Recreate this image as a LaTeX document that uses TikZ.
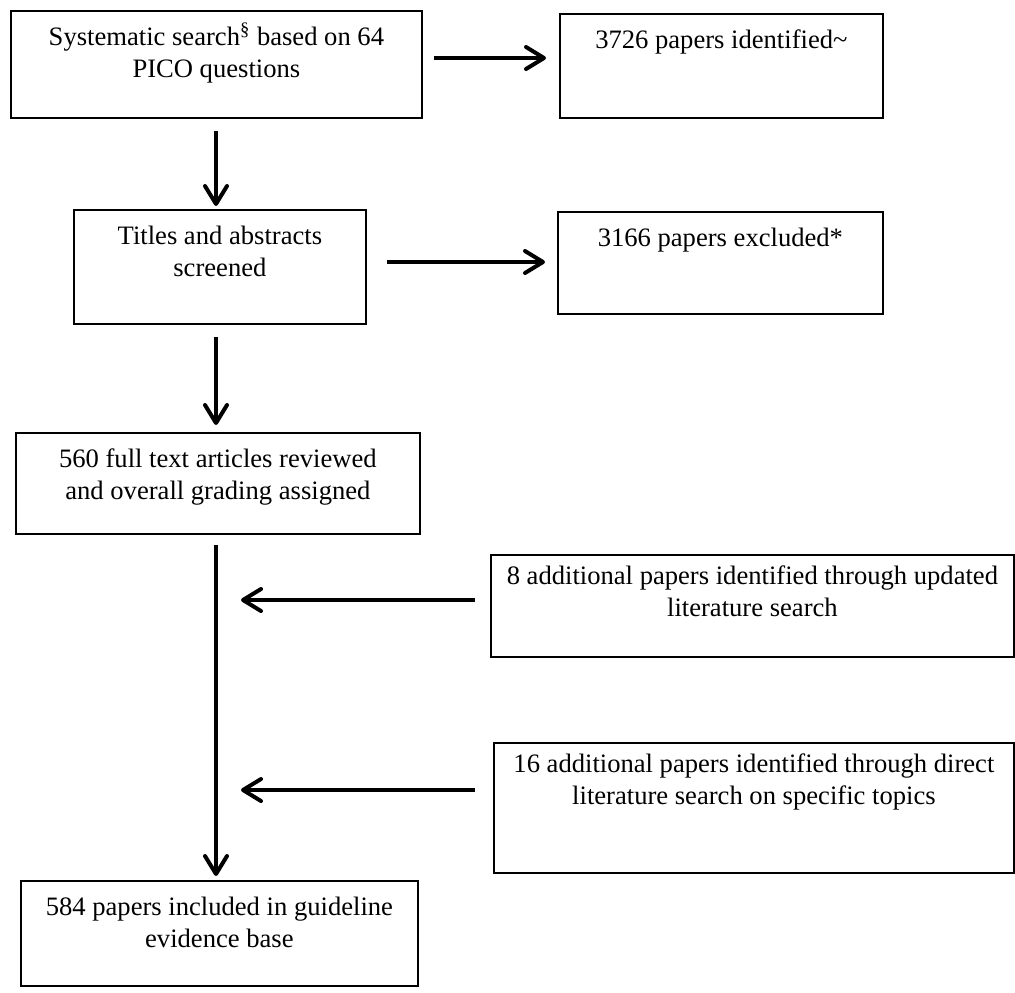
\documentclass[tikz,border=0pt]{standalone}
\usepackage{fontspec}
\setmainfont{Liberation Serif}
\usetikzlibrary{arrows.meta}
\newcommand{\boxtext}[4][17.5pt]{\parbox[t][#3][t]{#2}{\centering\rule{0pt}{#1}#4\par}}

\begin{document}
\begin{tikzpicture}[x=0.5pt, y=-0.5pt,
    block/.style={draw, line width=0.9pt, inner sep=0pt, anchor=north west, font=\fontsize{13.3}{16}\selectfont},
    flow/.style={line width=2pt, -{Straight Barb[round, length=9pt, width=11pt]}}]

        \useasboundingbox (0,0) rectangle (1015,992);

        \node [block] (search) at (10,10) {\boxtext{205.5pt}{53.5pt}{Systematic search\textsuperscript{\S} based on 64\\ PICO questions}};
        \node [block] (ident) at (559,13) {\boxtext{161.5pt}{52pt}{3726 papers identified\textasciitilde}};
        \node [block] (screen) at (73,209) {\boxtext{146pt}{57pt}{Titles and abstracts\\ screened}};
        \node [block] (excl) at (557,211) {\boxtext{162.5pt}{51pt}{3166 papers excluded*}};
        \node [block] (review) at (15,432) {\boxtext{202pt}{50.5pt}{560 full text articles reviewed\\ and overall grading assigned}};
        \node [block] (update) at (490,554) {\boxtext[15pt]{261.5pt}{51pt}{8 additional papers identified through updated\\ literature search}};
        \node [block] (direct) at (493,742) {\boxtext[15pt]{260pt}{65pt}{16 additional papers identified through direct\\ literature search on specific topics}};
        \node [block] (incl) at (20,880) {\boxtext{198.5pt}{52.5pt}{584 papers included in guideline\\ evidence base}};

        \coordinate (join1) at (216,600);
        \coordinate (join2) at (216,790);

        \draw [flow, shorten <=5.5pt, shorten >=6.5pt] (search.east |- 0,58) -- (ident.west |- 0,58);
        \draw [flow, shorten <=10pt, shorten >=6pt] (screen.east |- 0,262) -- (excl.west |- 0,262);
        \draw [flow, shorten <=6pt, shorten >=1.5pt] (search.south -| 216,0) -- (screen.north -| 216,0);
        \draw [flow, shorten <=6pt, shorten >=3.5pt] (screen.south -| 216,0) -- (review.north -| 216,0);
        \draw [flow, shorten <=5pt, shorten >=2pt] (review.south -| 216,0) -- (incl.north -| 216,0);
        \draw [flow, shorten <=7.5pt, shorten >=12.5pt] (update.west |- join1) -- (join1);
        \draw [flow, shorten <=9pt, shorten >=12.5pt] (direct.west |- join2) -- (join2);
        \end{tikzpicture}
\end{document}
